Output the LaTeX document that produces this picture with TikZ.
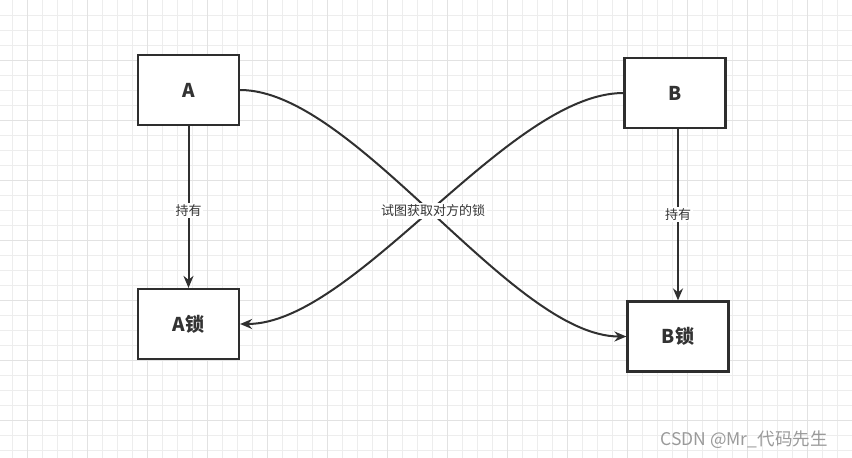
\documentclass[tikz,border=0pt]{standalone}
\usepackage{fontspec}
\setmainfont{Noto Sans CJK SC}
\usetikzlibrary{arrows.meta}
\definecolor{boxc}{HTML}{2E2E2E}
\definecolor{linec}{HTML}{303030}
\definecolor{textc}{HTML}{333333}
\definecolor{gridc}{HTML}{EDEDED}
\definecolor{gridd}{HTML}{E2E2E2}
\definecolor{wmc}{HTML}{9A9A9A}
\begin{document}
\begin{tikzpicture}[x=1pt,y=-1pt,
  box/.style={draw=boxc, line width=2.2pt, fill=white, minimum width=101pt, minimum height=70pt, inner sep=0pt, font=\bfseries\fontsize{19}{21}\selectfont, text=textc},
  conn/.style={draw=linec, line width=2pt, -{Stealth[length=12pt,width=10pt]}},
  lab/.style={fill=white, inner sep=1.5pt, font=\fontsize{13}{15}\selectfont, text=textc},
  wm/.style={font=\fontsize{17.5}{19}\selectfont, text=wmc}]
\useasboundingbox (0,0) rectangle (852,458);
\fill[white] (0,0) rectangle (852,458);
\foreach \i in {0,...,56} {
  \pgfmathsetmacro{\xx}{12+15*\i}
  \draw[gridc, line width=0.8pt] (\xx,0) -- (\xx,458);
}
\foreach \j in {1,...,30} {
  \pgfmathsetmacro{\yy}{15*\j}
  \draw[gridc, line width=0.8pt] (0,\yy) -- (852,\yy);
}
\foreach \i in {0,...,14} {
  \pgfmathsetmacro{\xx}{27+60*\i}
  \draw[gridd, line width=0.8pt] (\xx,0) -- (\xx,458);
}
\foreach \j in {1,...,7} {
  \pgfmathsetmacro{\yy}{60*\j}
  \draw[gridd, line width=0.8pt] (0,\yy) -- (852,\yy);
}
\node[box] (A) at (188.5,90) {A};
\node[box] (B) at (675,93) {B};
\node[box] (Al) at (188.5,324) {A锁};
\node[box] (Bl) at (678,336.5) {B锁};
\draw[conn] (A.south) -- (Al.north) node[lab, pos=0.52] (h1) {持有};
\draw[conn] (Bl.north |- B.south) -- (Bl.north) node[lab, pos=0.5] (h2) {持有};
\draw[conn] (A.east) .. controls +(115,0) and +(-115,0) .. (Bl.west);
\draw[conn] (B.west) .. controls +(-115,0) and +(115,0) .. (Al.east);
\node[lab] (t) at (433,211) {试图获取对方的锁};
\node[wm] (w) at (744,440) {CSDN @Mr\_代码先生};
\end{tikzpicture}
\end{document}
